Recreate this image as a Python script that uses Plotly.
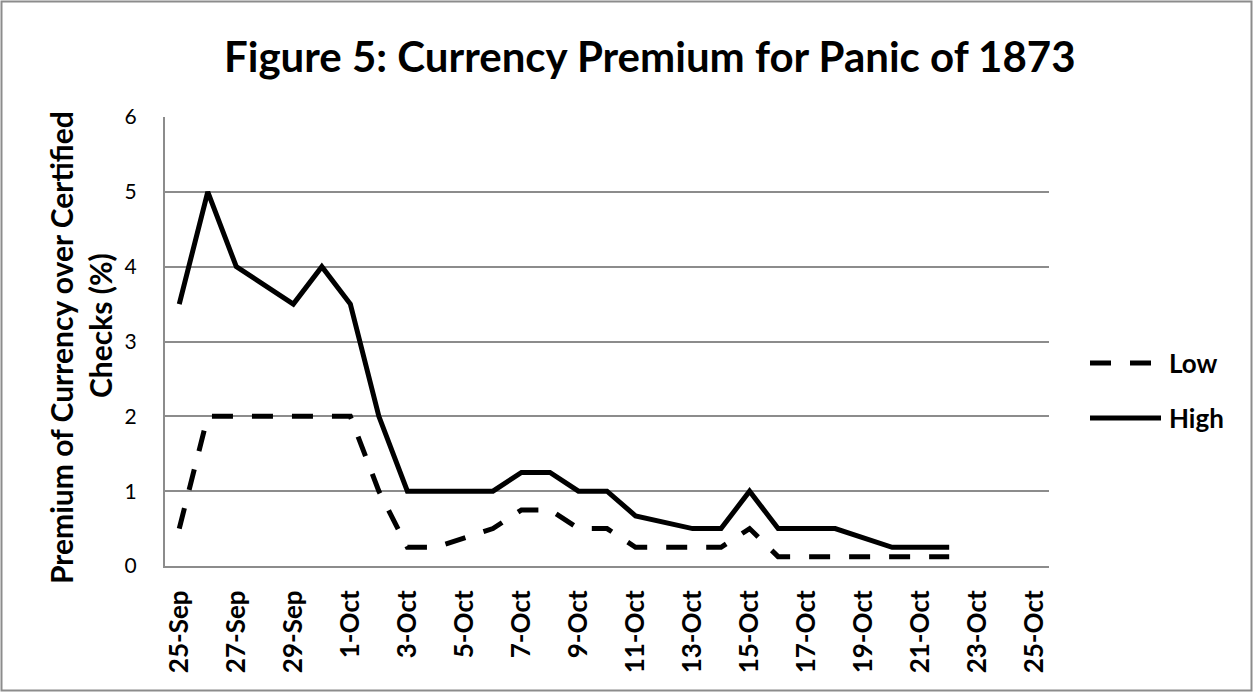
import plotly.graph_objects as go

dates = ["1873-09-25", "1873-09-26", "1873-09-27", "1873-09-29", "1873-09-30",
         "1873-10-01", "1873-10-02", "1873-10-03", "1873-10-04", "1873-10-06",
         "1873-10-07", "1873-10-08", "1873-10-09", "1873-10-10", "1873-10-11",
         "1873-10-13", "1873-10-14", "1873-10-15", "1873-10-16", "1873-10-17",
         "1873-10-18", "1873-10-20", "1873-10-21", "1873-10-22"]
low = [0.5, 2, 2, 2, 2, 2, 1, 0.25, 0.25, 0.5, 0.75, 0.75, 0.5, 0.5, 0.25,
       0.25, 0.25, 0.5, 0.125, 0.125, 0.125, 0.125, 0.125, 0.125]
high = [3.5, 5, 4, 3.5, 4, 3.5, 2, 1, 1, 1, 1.25, 1.25, 1, 1, 0.67,
        0.5, 0.5, 1, 0.5, 0.5, 0.5, 0.25, 0.25, 0.25]
tick_dates = ["1873-09-25", "1873-09-27", "1873-09-29", "1873-10-01", "1873-10-03",
              "1873-10-05", "1873-10-07", "1873-10-09", "1873-10-11", "1873-10-13",
              "1873-10-15", "1873-10-17", "1873-10-19", "1873-10-21", "1873-10-23",
              "1873-10-25"]
tick_labels = ["25-Sep", "27-Sep", "29-Sep", "1-Oct", "3-Oct", "5-Oct", "7-Oct", "9-Oct",
               "11-Oct", "13-Oct", "15-Oct", "17-Oct", "19-Oct", "21-Oct", "23-Oct", "25-Oct"]
series_names = ["Low", "High"]
y_title_lines = ["Premium of Currency over Certified", "Checks (%)"]

FONT = "Lato, Carlito, 'Open Sans', sans-serif"
DASH = "21px,19px"
GRID = "#8c8c8c"

fig = go.Figure()
fig.add_trace(go.Scatter(x=dates, y=low, name=series_names[0], mode="lines",
                         line=dict(color="black", width=5, dash=DASH)))
fig.add_trace(go.Scatter(x=dates, y=high, name=series_names[1], mode="lines",
                         line=dict(color="black", width=5)))

L, R, T, B = 165, 204, 117, 126
W, H = 1253, 692
pw, ph = W - L - R, H - T - B


def px(x):
    return (x - L) / pw


def py(y):
    return (H - B - y) / ph


fig.update_layout(
    width=W, height=H,
    margin=dict(l=L, r=R, t=T, b=B),
    paper_bgcolor="white", plot_bgcolor="white",
    font=dict(family=FONT, color="black", size=21),
    showlegend=False,
    xaxis=dict(
        type="date",
        range=["1873-09-24 12:00", "1873-10-25 12:00"],
        tickmode="array", tickvals=tick_dates, ticktext=tick_labels,
        tickangle=-90, tickfont=dict(size=26, family=FONT, weight="bold"),
        ticklabelstandoff=12,
        showgrid=False, showline=True, linecolor=GRID, linewidth=2,
        ticks="", zeroline=False,
    ),
    yaxis=dict(
        range=[0, 6], tickvals=[0, 1, 2, 3, 4, 5, 6],
        showgrid=True, gridcolor=GRID, gridwidth=2,
        showline=True, linecolor=GRID, linewidth=2, ticks="",
        ticklabelstandoff=22,
        tickfont=dict(size=21, family=FONT), zeroline=False,
    ),
)

# y-axis title (two centred lines)
for txt, xx, yy in zip(y_title_lines, [61, 100], [348, 326]):
    fig.add_annotation(text="<b>" + txt + "</b>",
                       xref="paper", yref="paper", x=px(xx), y=py(yy),
                       xanchor="center", yanchor="middle", textangle=-90,
                       showarrow=False, font=dict(size=30, family=FONT))

# chart title
fig.add_annotation(text="<b>Figure 5: Currency Premium for Panic of 1873</b>",
                   xref="paper", yref="paper", x=px(650), y=py(56),
                   xanchor="center", yanchor="middle", showarrow=False,
                   font=dict(size=42, family=FONT))

# legend
leg_y = [363, 418]
leg_dash = [DASH, "solid"]
for name, yy, dsh in zip(series_names, leg_y, leg_dash):
    fig.add_shape(type="line", xref="paper", yref="paper",
                  x0=px(1090), x1=px(1161), y0=py(yy), y1=py(yy),
                  line=dict(color="black", width=5, dash=dsh))
    fig.add_annotation(text="<b>" + name + "</b>", xref="paper", yref="paper",
                       x=px(1167), y=py(yy), xanchor="left", yanchor="middle",
                       showarrow=False, font=dict(size=26, family=FONT))

# chart border
fig.add_shape(type="rect", xref="paper", yref="paper",
              x0=px(1.5), x1=px(1251.5), y0=py(690.5), y1=py(1.5),
              line=dict(color=GRID, width=2), layer="below")

fig.write_html("out.html")
